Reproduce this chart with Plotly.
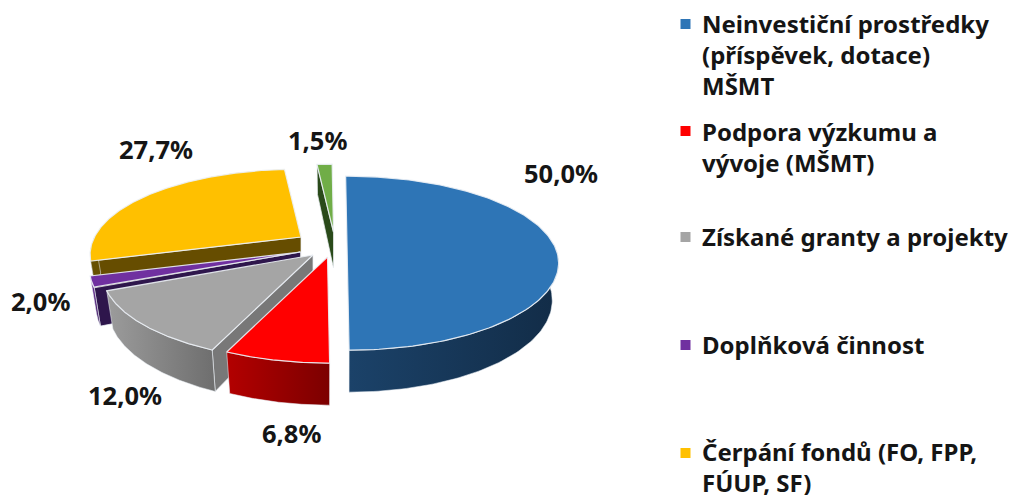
import numpy as np
import plotly.graph_objects as go

# ---- data ----
categories = [
    "Neinvestiční prostředky<br>(příspěvek, dotace)<br>MŠMT",
    "Podpora výzkumu a<br>vývoje (MŠMT)",
    "Získané granty a projekty",
    "Doplňková činnost",
    "Čerpání fondů (FO, FPP,<br>FÚUP, SF)",
    "",
]
values = [50.0, 6.8, 12.0, 2.0, 27.7, 1.5]
top_colors = ["#2E75B6", "#FF0000", "#A5A5A5", "#7030A0", "#FFC000", "#70AD47"]
wall_left = ["#1B4269", "#B30000", "#9C9C9C", "#7030A0", "#665000", "#2C4A1C"]
wall_right = ["#122C47", "#7C0000", "#6E6E6E", "#3A1A58", "#665000", "#2C4A1C"]
cut_colors = ["#122C47", "#7C0000", "#787878", "#2E164C", "#664D00", "#2A4A1A"]

# ---- drawing constants (screen layout of the exploded, tilted pie) ----
apex = [(347, 244), (327.5, 257), (313, 255), (300.5, 252), (301, 237), (333.5, 232)]
show_cut = [False, False, True, True, True, True]
draw_order = [4, 3, 2, 1, 5, 0]
RX, RY, PERSP, SKEW, BASE_SHRINK = 206.5, 87.0, 0.22, 0.02, 0.97
label_xy = [(561, 174), (291, 434), (125, 396), (40, 302), (156, 150), (317, 141)]
legend_marker_y = [24, 131, 237, 345, 453]
legend_text_top = [5, 113, 218, 326, 433]
FONT = "Noto Sans"
EDGE = "rgba(235,240,245,0.9)"


def proj(theta, ax, ay):
    """Tilted-circle point at clockwise angle theta (radians) from 12 o'clock."""
    v = -np.cos(theta)
    s = 1 + PERSP * v
    dy = RY * v * s
    return ax + RX * np.sin(theta) * s + SKEW * dy, ay + dy


def depth(theta):
    return 36 + 6 * (-np.cos(theta))


fig = go.Figure()


def poly(xs, ys, fill=None, grad=None, lw=1.0):
    kw = dict(x=list(xs), y=list(ys), mode="lines", fill="toself",
              line=dict(color=EDGE, width=lw), hoverinfo="skip", showlegend=False)
    if grad:
        kw["fillgradient"] = dict(type="horizontal",
                                  colorscale=[[0, grad[0]], [1, grad[1]]])
    else:
        kw["fillcolor"] = fill
    fig.add_trace(go.Scatter(**kw))


edges = np.concatenate([[0], np.cumsum(values)]) / sum(values) * 2 * np.pi

for i in draw_order:
    t1, t2 = edges[i], edges[i + 1]
    ax, ay = apex[i]
    # cut face on the leading radial edge
    if show_cut[i]:
        px, py = proj(t1, ax, ay)
        bx = ax + (px - ax) * BASE_SHRINK
        poly([ax, px, bx, ax, ax],
             [ay, py, py + depth(t1), ay + depth(np.pi / 2), ay],
             fill=cut_colors[i], lw=0.8)
    # outer rim, front half only
    a = max(t1, np.pi / 2)
    b = min(t2, 3 * np.pi / 2)
    if b > a:
        th = np.linspace(a, b, 80)
        px, py = proj(th, ax, ay)
        bx = ax + (px - ax) * BASE_SHRINK
        poly(np.r_[px, bx[::-1], px[0]],
             np.r_[py, (py + depth(th))[::-1], py[0]],
             grad=(wall_left[i], wall_right[i]), lw=0.6)
    # top face
    th = np.linspace(t1, t2, 160)
    px, py = proj(th, ax, ay)
    poly(np.r_[ax, px, ax], np.r_[ay, py, ay], fill=top_colors[i], lw=1.2)

# legend squares
fig.add_trace(go.Scatter(
    x=[685.5] * 5, y=legend_marker_y, mode="markers",
    marker=dict(symbol="square", size=10, color=top_colors[:5]),
    hoverinfo="skip", showlegend=False))

annotations = []
for name, y in zip(categories[:5], legend_text_top):
    annotations.append(dict(x=700, y=y, text=name, xref="x", yref="y", showarrow=False,
                            xanchor="left", yanchor="top", align="left",
                            font=dict(family=FONT, size=24, color="#151515", weight=700)))
for v, (x, y) in zip(values, label_xy):
    annotations.append(dict(x=x, y=y - 1, text=f"{v:.1f}".replace(".", ",") + "%", xref="x", yref="y",
                            showarrow=False, xanchor="center", yanchor="middle",
                            font=dict(family=FONT, size=25.5, color="#151515", weight=700)))

fig.update_layout(
    width=1011, height=495, margin=dict(l=0, r=0, t=0, b=0),
    paper_bgcolor="white", plot_bgcolor="white", showlegend=False,
    xaxis=dict(range=[0, 1011], visible=False, fixedrange=True),
    yaxis=dict(range=[495, 0], visible=False, fixedrange=True),
    annotations=annotations,
)
fig.write_html("out.html", config=dict(displayModeBar=False),
               post_script="document.body.style.margin='0';document.documentElement.style.overflow='hidden';")
